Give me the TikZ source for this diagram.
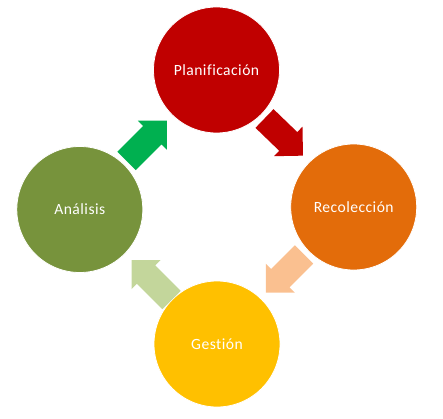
\documentclass[tikz,border=0pt]{standalone}
\usepackage{fontspec}
\setmainfont{Carlito}[LetterSpace=3, Ligatures=NoCommon, RawFeature={-liga;-clig}]
\definecolor{cPlan}{HTML}{C00000}
\definecolor{cRec}{HTML}{E36C0A}
\definecolor{cGes}{HTML}{FFC000}
\definecolor{cAna}{HTML}{77933C}
\definecolor{aGreen}{HTML}{00B050}
\definecolor{aRed}{HTML}{C00000}
\definecolor{aOrange}{HTML}{FAC090}
\definecolor{aLight}{HTML}{C3D69B}
\newcommand\blockarrow[4]{% tail coord, angle, length, colour
  \begin{scope}[shift={(#1)}, rotate=#2]
    \fill[#4] (0,-13) -- (#3-20.5,-13) -- (#3-20.5,-20.5) -- (#3,0)
      -- (#3-20.5,20.5) -- (#3-20.5,13) -- (0,13) -- cycle;
  \end{scope}}
\begin{document}
\begin{tikzpicture}[x=1pt,y=1pt,
  stage/.style={circle, minimum size=126pt, inner sep=0pt, draw=white, line width=0.8pt,
    text=white, font=\fontsize{15.6}{18}\selectfont}]
\useasboundingbox (0,0) rectangle (443,418);
\node[stage, fill=cPlan] (plan) at (216.5,348) {Planificación};
\node[stage, fill=cRec]  (rec)  at (353.7,211) {Recolección};
\node[stage, fill=cGes]  (ges)  at (217,74)    {Gestión};
\node[stage, fill=cAna]  (ana)  at (79.8,208.5) {Análisis};
\coordinate (t1) at (126.5,257);
\coordinate (t2) at (264.5,299.5);
\coordinate (t3) at (304,163.5);
\coordinate (t4) at (171.5,118);
\blockarrow{t1}{45}{57}{aGreen}
\blockarrow{t2}{-44}{53.5}{aRed}
\blockarrow{t3}{-135}{54}{aOrange}
\blockarrow{t4}{135}{56.5}{aLight}
\end{tikzpicture}
\end{document}
